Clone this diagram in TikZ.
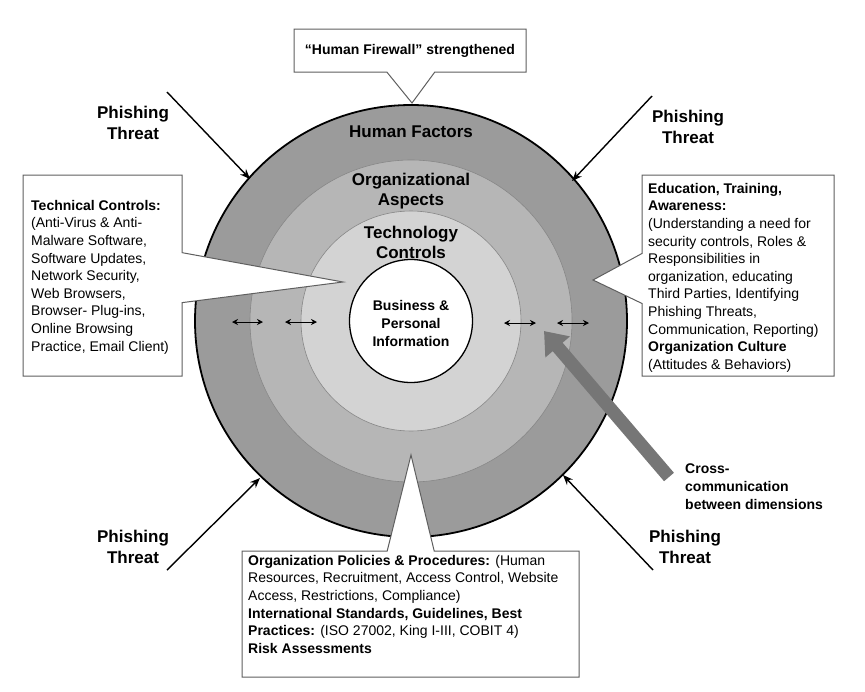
\documentclass[tikz,border=0pt]{standalone}
\usepackage{fontspec}
\setmainfont{Liberation Sans}
\usetikzlibrary{shapes.callouts,arrows.meta}
\definecolor{ringA}{RGB}{155,155,155}
\definecolor{ringB}{RGB}{182,182,182}
\definecolor{ringC}{RGB}{211,211,211}
\definecolor{ringedge}{RGB}{135,135,135}
\definecolor{boxgray}{RGB}{95,95,95}
\definecolor{crossgray}{RGB}{118,118,118}
\begin{document}
\begin{tikzpicture}[x=1pt,y=-1pt,
  ringlbl/.style={font=\bfseries\fontsize{17}{20}\selectfont, align=center, inner sep=0pt},
  infolbl/.style={font=\bfseries\fontsize{14}{18}\selectfont, align=center, inner sep=0pt},
  boxtxt/.style={font=\fontsize{14}{17.6}\selectfont, align=left, inner sep=0pt, anchor=north west},
  callbox/.style={rectangle callout, draw=boxgray, fill=white, line width=1pt, inner sep=0pt},
  threat/.style={draw=black, line width=1.4pt, -{Stealth[length=10pt,width=8pt]}},
  threatlbl/.style={font=\bfseries\fontsize{17}{20.5}\selectfont, align=center, inner sep=0pt},
  dbl/.style={line width=0.9pt, {Stealth[length=6pt,width=6pt]}-{Stealth[length=6pt,width=6pt]}},
  crossarrow/.style={draw=crossgray, line width=13pt, -{Triangle[length=21pt,width=31pt]}},
  crosslbl/.style={font=\bfseries\fontsize{14}{17.6}\selectfont, align=left, inner sep=0pt, anchor=north west}]
\useasboundingbox (0,0) rectangle (865,691);

% rings
\coordinate (c) at (411,321);
\node[circle, minimum size=432pt, fill=ringA, draw=black, line width=1.8pt, inner sep=0pt] (hf) at (c) {};
\node[circle, minimum size=322pt, fill=ringB, draw=ringedge, line width=0.6pt, inner sep=0pt] (oa) at (c) {};
\node[circle, minimum size=220pt, fill=ringC, draw=ringedge, line width=0.6pt, inner sep=0pt] (tcr) at (c) {};
\node[circle, minimum size=123pt, fill=white, draw=black, line width=1.3pt, inner sep=0pt] (core) at (c) {};

% callout pointer tips
\coordinate (lefttip) at (343,282);
\coordinate (righttip) at (593,280);
\coordinate (bottip) at (411,455);
\coordinate (toptip) at (412,103);

% callouts
\node[callbox, minimum width=159pt, minimum height=201pt, callout absolute pointer={(lefttip)}, callout pointer width=50pt] (leftbox) at (102.5,275.5) {};
\node[callbox, minimum width=192pt, minimum height=201pt, callout absolute pointer={(righttip)}, callout pointer width=50pt] (rightbox) at (738,275.5) {};
\node[callbox, minimum width=337pt, minimum height=126pt, callout absolute pointer={(bottip)}, callout pointer width=47pt] (botbox) at (410.5,614) {};
\node[callbox, minimum width=232pt, minimum height=43pt, callout absolute pointer={(toptip)}, callout pointer width=48pt, font=\bfseries\fontsize{14}{17}\selectfont] (topbox) at (410,50.5) {“Human Firewall” strengthened};

% ring labels
\node[ringlbl] (hflbl) at (411,132) {Human Factors};
\node[ringlbl] (oalbl) at (411,191.5) {Organizational\\Aspects};
\node[ringlbl] (tclbl) at (411,242.8) {Technology\\Controls};
\node[infolbl] (corelbl) at (411,323) {Business \&\\Personal\\Information};

% box texts
\node[boxtxt] (lefttxt) at (31,200) {\textbf{Technical Controls:}\\
(Anti-Virus \& Anti-\\
Malware Software,\\
Software Updates,\\
Network Security,\\
Web Browsers,\\
Browser- Plug-ins,\\
Online Browsing\\
Practice, Email Client)};
\node[boxtxt] (righttxt) at (648,183) {\textbf{Education, Training,}\\
\textbf{Awareness:}\\
(Understanding a need for\\
security controls, Roles \&\\
Responsibilities in\\
organization, educating\\
Third Parties, Identifying\\
Phishing Threats,\\
Communication, Reporting)\\
\textbf{Organization Culture}\\
(Attitudes \& Behaviors)};
\node[boxtxt] (bottxt) at (248,555) {\textbf{Organization Policies \& Procedures:} (Human\\
Resources, Recruitment, Access Control, Website\\
Access, Restrictions, Compliance)\\
\textbf{International Standards, Guidelines, Best}\\
\textbf{Practices:} (ISO 27002, King I-III, COBIT 4)\\
\textbf{Risk Assessments}};

% phishing threats
\node[threatlbl] (ptl) at (133,123) {Phishing\\Threat};
\node[threatlbl] (ptr) at (688,127) {Phishing\\Threat};
\node[threatlbl] (pbl) at (133,547) {Phishing\\Threat};
\node[threatlbl] (pbr) at (685,547) {Phishing\\Threat};
\coordinate (tls) at (167,92);   \coordinate (tle) at (250,179);
\coordinate (trs) at (652,96);   \coordinate (tre) at (572,181);
\coordinate (bls) at (167,570);  \coordinate (ble) at (260,478);
\coordinate (brs) at (653,570);  \coordinate (bre) at (563,475);
\draw[threat] (tls) -- (tle);
\draw[threat] (trs) -- (tre);
\draw[threat] (bls) -- (ble);
\draw[threat] (brs) -- (bre);

% small double arrows
\coordinate (da1) at (232,322); \coordinate (db1) at (263,322);
\coordinate (da2) at (285,322); \coordinate (db2) at (317,322);
\coordinate (da3) at (504,323); \coordinate (db3) at (536,323);
\coordinate (da4) at (557,323); \coordinate (db4) at (589,323);
\draw[dbl] (da1) -- (db1);
\draw[dbl] (da2) -- (db2);
\draw[dbl] (da3) -- (db3);
\draw[dbl] (da4) -- (db4);

% cross communication
\coordinate (cas) at (669,477);
\coordinate (cae) at (544,331);
\draw[crossarrow] (cas) -- (cae);
\node[crosslbl] (crosstxt) at (685,464) {Cross-\\communication\\between dimensions};
\end{tikzpicture}
\end{document}
